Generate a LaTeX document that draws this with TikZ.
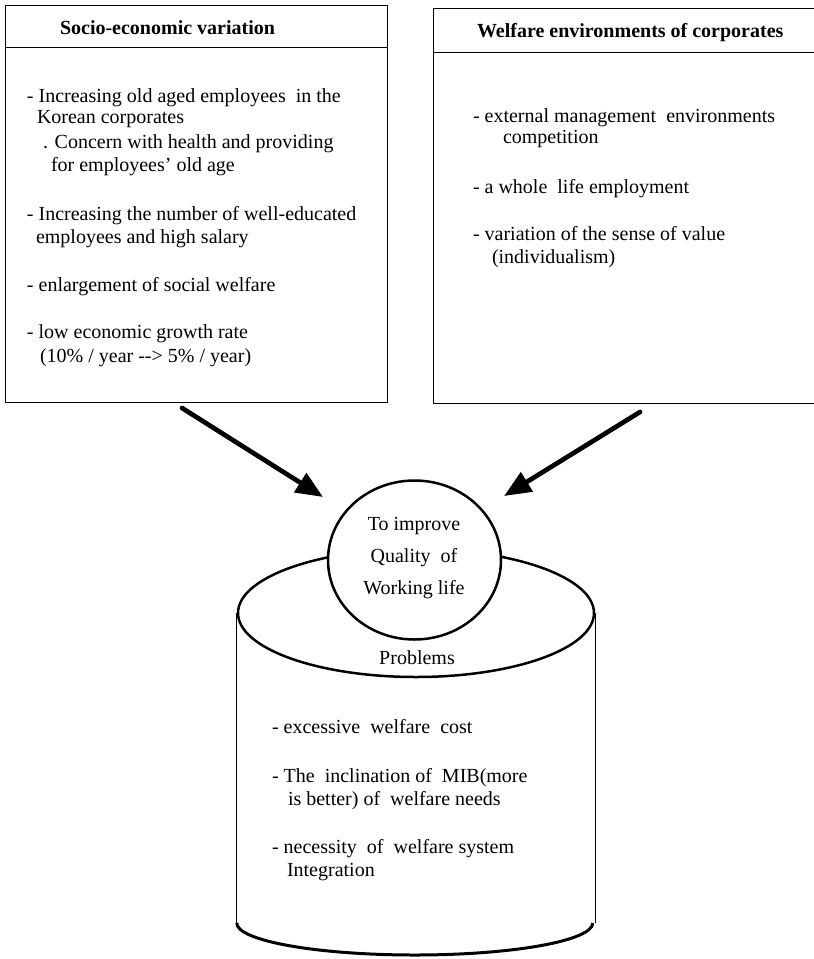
\documentclass[tikz,border=0pt]{standalone}
\usepackage{fontspec}
\setmainfont{Liberation Serif}
\usetikzlibrary{arrows.meta,shapes.geometric}
\begin{document}
\begin{tikzpicture}[x=1pt,y=-1pt,
  txt/.style={inner sep=0pt, outer sep=0pt, anchor=base west, font=\fontsize{20}{23}\selectfont},
  ctxt/.style={txt, anchor=base},
  ttl/.style={txt, font=\fontsize{20}{23}\selectfont\bfseries},
  framebox/.style={draw, line width=1pt, rectangle, inner sep=0pt, anchor=north west},
  thinline/.style={line width=1pt},
  heavyline/.style={line width=2.5pt},
  bigarrow/.style={line width=4.7pt, line cap=round, -{Triangle[length=27pt,width=22pt]}}
]
\useasboundingbox (0,0) rectangle (814,959);

% ---------- left box ----------
\node[framebox, minimum width=382pt, minimum height=397pt] (sbox) at (5,5) {};
\draw[thinline] (5,47) -- (387,47);
\node[ttl] (st) at (60,34) {Socio-economic variation};
\node[txt] (s1) at (27,102) {- Increasing old aged employees\ \ in the};
\node[txt] (s2) at (37,123) {Korean corporates};
\node[txt] (s3) at (43,148) {. Concern with health and providing};
\node[txt] (s4) at (51,171) {for employees' old age};
\node[txt] (s5) at (27,220) {- Increasing the number of well-educated};
\node[txt] (s6) at (36,243) {employees and high salary};
\node[txt] (s7) at (27,291) {- enlargement of social welfare};
\node[txt] (s8) at (27,338) {- low economic growth rate};
\node[txt] (s9) at (40,362) {(10\% / year {-}{-}> 5\% / year)};

% ---------- right box ----------
\node[framebox, minimum width=384pt, minimum height=395pt] (wbox) at (433,8) {};
\draw[thinline] (433,52) -- (816,52);
\node[ttl] (wt) at (477,37) {Welfare environments of corporates};
\node[txt] (w1) at (473,122) {- external management\ \ environments};
\node[txt] (w2) at (503,143) {competition};
\node[txt] (w3) at (473,193) {- a whole\ \ life employment};
\node[txt] (w4) at (473,240) {- variation of the sense of value};
\node[txt] (w5) at (492,263) {(individualism)};

% ---------- cylinder ----------
\node[ellipse, draw, heavyline, minimum width=356pt, minimum height=128pt, inner sep=0pt] (cyltop) at (416,613) {};
\draw[thinline] (cyltop.west) -- ++(0,310) coordinate (cbl);
\draw[thinline] (cyltop.east) -- ++(0,310) coordinate (cbr);
\draw[line width=3pt] (cbl) arc[start angle=180, end angle=0, x radius=178, y radius=32];

\node[ctxt] (pt) at (417,664) {Problems};
\node[txt] (p1) at (272,733) {- excessive\ \ welfare\ \ cost};
\node[txt] (p2) at (272,782) {- The\ \ inclination of\ \ MIB(more};
\node[txt] (p3) at (288,805) {is better) of\ \ welfare needs};
\node[txt] (p4) at (272,853) {- necessity\ \ of\ \ welfare system};
\node[txt] (p5) at (287,876) {Integration};

% ---------- circle ----------
\node[ellipse, draw, heavyline, fill=white, minimum width=173pt, minimum height=159pt, inner sep=0pt] (qwl) at (414.5,560) {};
\node[ctxt] (q1) at (414,530) {To improve};
\node[ctxt] (q2) at (414,562) {Quality\ \ of};
\node[ctxt] (q3) at (414,594) {Working life};

% ---------- arrows ----------
\coordinate (a1) at (182,408);
\coordinate (b1) at (323,497);
\coordinate (a2) at (640,412);
\coordinate (b2) at (504,496);
\draw[bigarrow] (a1) -- (b1);
\draw[bigarrow] (a2) -- (b2);
\end{tikzpicture}
\end{document}
